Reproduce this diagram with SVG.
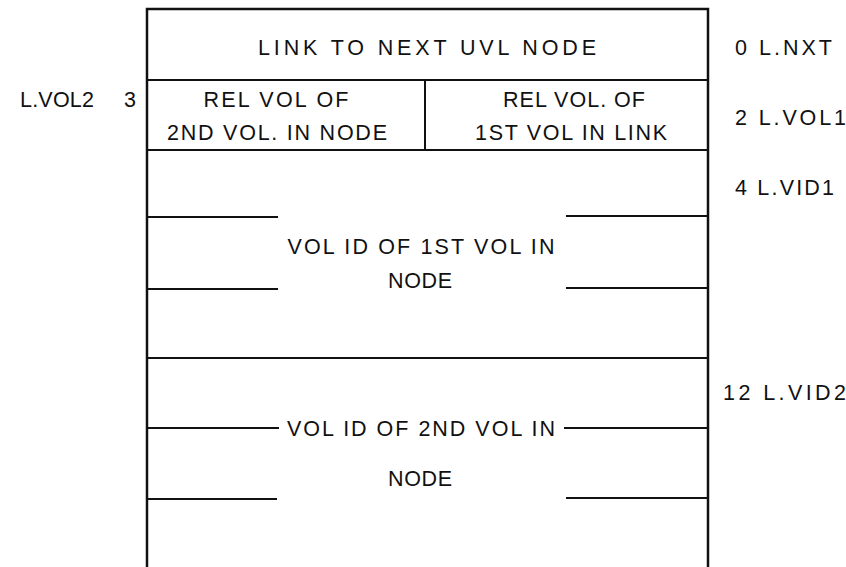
<svg xmlns="http://www.w3.org/2000/svg" width="846" height="567" viewBox="0 0 846 567">
<style>
.t{font-family:"Liberation Sans",Arial,sans-serif;font-size:21.5px;fill:#111}
.m{text-anchor:middle}
.b{stroke:#111;stroke-width:2.5;fill:none}
.l{stroke:#111;stroke-width:2;fill:none}
</style>
<rect width="846" height="567" fill="#fff"/>
<g id="frame">
<path class="b" d="M147,570 V9 H708 V570"/>
</g>
<g id="connectors">
<line class="l" x1="147" y1="80" x2="708" y2="80"/>
<line class="l" x1="147" y1="150" x2="708" y2="150"/>
<line class="l" x1="425" y1="80" x2="425" y2="150"/>
<line class="l" x1="147" y1="217" x2="278" y2="217"/>
<line class="l" x1="566" y1="216" x2="708" y2="216"/>
<line class="l" x1="147" y1="289" x2="278" y2="289"/>
<line class="l" x1="566" y1="288" x2="708" y2="288"/>
<line class="l" x1="147" y1="358" x2="708" y2="358"/>
<line class="l" x1="147" y1="428" x2="279" y2="428"/>
<line class="l" x1="564" y1="428" x2="708" y2="428"/>
<line class="l" x1="147" y1="499" x2="277" y2="499"/>
<line class="l" x1="566" y1="498" x2="708" y2="498"/>
</g>
<g id="n-nxt">
<text class="t m" x="427" y="55" textLength="338" lengthAdjust="spacing">LINK TO NEXT UVL NODE</text>
<text class="t" x="735" y="55" textLength="97" lengthAdjust="spacing">0 L.NXT</text>
</g>
<g id="n-vol2">
<text class="t m" x="276" y="107" textLength="145" lengthAdjust="spacing">REL VOL OF</text>
<text class="t m" x="277" y="140" textLength="220" lengthAdjust="spacing">2ND VOL. IN NODE</text>
<text class="t" x="20" y="107" textLength="74" lengthAdjust="spacing">L.VOL2</text>
<text class="t" x="124" y="107">3</text>
</g>
<g id="n-vol1">
<text class="t m" x="574" y="107" textLength="142" lengthAdjust="spacing">REL VOL. OF</text>
<text class="t m" x="571" y="140" textLength="192" lengthAdjust="spacing">1ST VOL IN LINK</text>
<text class="t" x="735" y="125" textLength="111" lengthAdjust="spacing">2 L.VOL1</text>
</g>
<g id="n-vid1">
<text class="t m" x="421" y="254" textLength="267" lengthAdjust="spacing">VOL ID OF 1ST VOL IN</text>
<text class="t m" x="420" y="288" textLength="64" lengthAdjust="spacing">NODE</text>
<text class="t" x="735" y="195" textLength="99" lengthAdjust="spacing">4 L.VID1</text>
</g>
<g id="n-vid2">
<text class="t m" x="421" y="436" textLength="268" lengthAdjust="spacing">VOL ID OF 2ND VOL IN</text>
<text class="t m" x="420" y="486" textLength="64" lengthAdjust="spacing">NODE</text>
<text class="t" x="723" y="400" textLength="123" lengthAdjust="spacing">12 L.VID2</text>
</g>
</svg>
